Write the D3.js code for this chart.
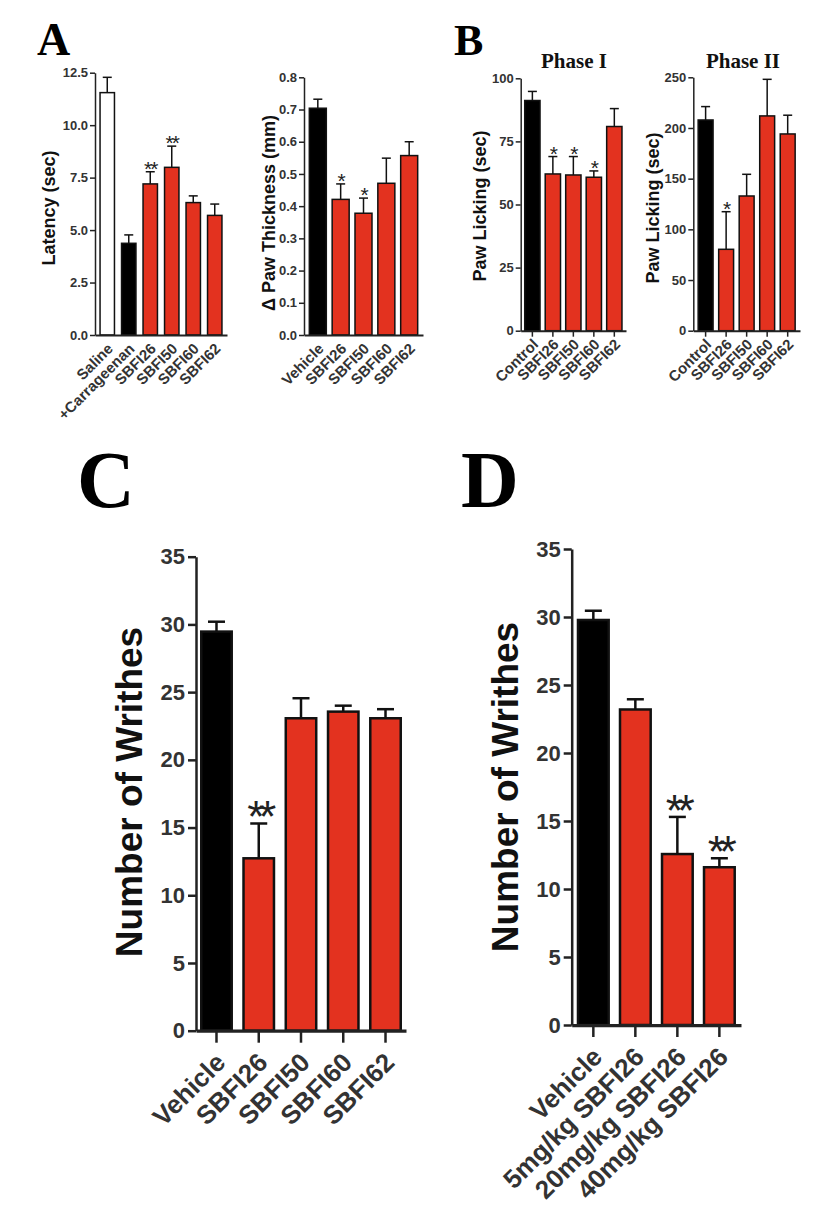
<!DOCTYPE html>
<html><head><meta charset="utf-8">
<script src="https://cdn.jsdelivr.net/npm/d3@7"></script>
<style>body{margin:0;background:#fff}</style>
</head><body><svg id="c" width="826" height="1224"></svg>
<script>
// ---------- DATA ----------
const latencyCats = ["Saline", "+Carrageenan", "SBFI26", "SBFI50", "SBFI60", "SBFI62"];
const latencyGroup = ["normal", "control", "drug", "drug", "drug", "drug"];
const latencyMean = [11.55, 4.37, 7.20, 7.99, 6.31, 5.70];
const latencySem  = [0.73, 0.40, 0.58, 1.01, 0.32, 0.54];
const latencySig  = ["", "", "**", "**", "", ""];
const latencyTicks = [0, 2.5, 5, 7.5, 10, 12.5];

const thickCats = ["Vehicle", "SBFI26", "SBFI50", "SBFI60", "SBFI62"];
const thickGroup = ["control", "drug", "drug", "drug", "drug"];
const thickMean = [0.704, 0.421, 0.378, 0.471, 0.557];
const thickSem  = [0.028, 0.048, 0.047, 0.078, 0.043];
const thickSig  = ["", "*", "*", "", ""];
const thickTicks = [0, 0.1, 0.2, 0.3, 0.4, 0.5, 0.6, 0.7, 0.8];

const phase1Cats = ["Control", "SBFI26", "SBFI50", "SBFI60", "SBFI62"];
const phase1Group = ["control", "drug", "drug", "drug", "drug"];
const phase1Mean = [91.2, 62.1, 61.7, 60.8, 80.9];
const phase1Sem  = [3.6, 6.9, 7.3, 2.5, 7.1];
const phase1Sig  = ["", "*", "*", "*", ""];
const phase1Ticks = [0, 25, 50, 75, 100];

const phase2Cats = ["Control", "SBFI26", "SBFI50", "SBFI60", "SBFI62"];
const phase2Group = ["control", "drug", "drug", "drug", "drug"];
const phase2Mean = [207.9, 80.3, 132.9, 211.9, 194.1];
const phase2Sem  = [13.2, 37.1, 21.4, 36.1, 18.5];
const phase2Sig  = ["", "*", "", "", ""];
const phase2Ticks = [0, 50, 100, 150, 200, 250];

const writhesCCats = ["Vehicle", "SBFI26", "SBFI50", "SBFI60", "SBFI62"];
const writhesCGroup = ["control", "drug", "drug", "drug", "drug"];
const writhesCMean = [29.47, 12.73, 23.07, 23.56, 23.07];
const writhesCSem  = [0.73, 2.57, 1.48, 0.44, 0.67];
const writhesCSig  = ["", "**", "", "", ""];

const writhesDCats = ["Vehicle", "5mg/kg SBFI26", "20mg/kg SBFI26", "40mg/kg SBFI26"];
const writhesDGroup = ["control", "drug", "drug", "drug"];
const writhesDMean = [29.78, 23.20, 12.57, 11.60];
const writhesDSem  = [0.68, 0.75, 2.73, 0.66];
const writhesDSig  = ["", "", "**", "**"];
const writhesTicks = [0, 5, 10, 15, 20, 25, 30, 35];

// ---------- DRAWING ----------
const SANS = "'Liberation Sans', Arial, Helvetica, sans-serif";
const SERIF = "'Liberation Serif', 'Times New Roman', serif";
const groupFill = {normal: "#ffffff", control: "#000000", drug: "#e3321f"};

const svg = d3.select("#c");
svg.append("rect").attr("width", 826).attr("height", 1224).attr("fill", "#fff");

function panel(o) {
  const x = d3.scaleBand().domain(o.cats).range([o.x0, o.x1]).paddingInner(o.pi).paddingOuter(o.po);
  const y = d3.scaleLinear().domain([0, o.max]).range([o.y0, o.y1]);
  const g = svg.append("g");
  const bw = x.bandwidth();
  const data = o.cats.map((c, i) => ({c, m: o.mean[i], s: o.sem[i], sig: o.sig[i], grp: o.group[i]}));

  // bars
  g.selectAll("rect.bar").data(data).enter().append("rect")
    .attr("x", d => x(d.c) + o.lw / 2).attr("width", bw - o.lw)
    .attr("y", d => y(d.m)).attr("height", d => o.y0 - y(d.m))
    .attr("fill", d => groupFill[d.grp]).attr("stroke", "#111").attr("stroke-width", o.lw);

  // error bars (upper)
  g.selectAll("line.err").data(data).enter().append("line")
    .attr("x1", d => x(d.c) + bw / 2).attr("x2", d => x(d.c) + bw / 2)
    .attr("y1", d => y(d.m)).attr("y2", d => y(d.m + d.s))
    .attr("stroke", "#111").attr("stroke-width", o.lw);
  g.selectAll("line.cap").data(data).enter().append("line")
    .attr("x1", d => x(d.c) + bw / 2 - o.cap / 2).attr("x2", d => x(d.c) + bw / 2 + o.cap / 2)
    .attr("y1", d => y(d.m + d.s)).attr("y2", d => y(d.m + d.s))
    .attr("stroke", "#111").attr("stroke-width", o.lw);

  // significance stars
  g.selectAll("text.sig").data(data.filter(d => d.sig)).enter().append("text")
    .attr("x", d => x(d.c) + bw / 2).attr("y", d => y(d.m + d.s) + o.sdy)
    .attr("text-anchor", "middle").attr("font-family", SANS).attr("font-size", o.sfs)
    .attr("letter-spacing", o.sls).attr("fill", "#222").text(d => d.sig);

  // y axis
  const ya = d3.axisLeft(y).tickValues(o.ticks).tickFormat(d3.format(o.fmt))
    .tickSize(o.tick).tickSizeOuter(0).tickPadding(o.tpad);
  const yg = g.append("g").attr("transform", `translate(${o.x0},0)`).call(ya);
  yg.select(".domain").attr("stroke", "#222").attr("stroke-width", o.lw);
  yg.selectAll(".tick line").attr("stroke", "#222").attr("stroke-width", o.lw);
  yg.selectAll(".tick text").attr("font-family", SANS).attr("font-weight", "bold")
    .attr("font-size", o.tfs).attr("fill", "#333");

  // x axis
  const xa = d3.axisBottom(x).tickSize(o.xtick).tickSizeOuter(0).tickFormat("");
  const xg = g.append("g").attr("transform", `translate(0,${o.y0})`).call(xa);
  xg.select(".domain").attr("stroke", "#222").attr("stroke-width", o.lw * 1.3);
  xg.selectAll(".tick line").attr("stroke", "#222").attr("stroke-width", o.lw);

  // x labels
  g.selectAll("text.xl").data(data).enter().append("text")
    .attr("transform", d => `translate(${x(d.c) + bw / 2 + o.xldx},${o.y0 + o.xlpad}) rotate(-45)`)
    .attr("text-anchor", "end").attr("dy", "0.35em")
    .attr("font-family", SANS).attr("font-weight", "bold").attr("font-size", o.xfs)
    .attr("fill", "#333").text(d => d.c);

  // y title
  g.append("text")
    .attr("transform", `translate(${o.ytx},${o.yty}) rotate(-90)`)
    .attr("text-anchor", "middle").attr("font-family", SANS).attr("font-weight", "bold")
    .attr("font-size", o.yfs).attr("fill", "#111").text(o.ytitle);
}

const small = {lw: 1.5, tick: 5, tpad: 2, tfs: 13, xfs: 15, yfs: 18, cap: 9, sfs: 21, sls: -2, sdy: 4, xlpad: 11, xldx: 3};
const big = {lw: 2.5, tick: 8, tpad: 3, tfs: 22, xfs: 26, yfs: 37, cap: 17, sfs: 45, sls: -6, sdy: 9, xlpad: 27, xldx: 4};

panel(Object.assign({}, small, {
  cats: latencyCats, group: latencyGroup, mean: latencyMean, sem: latencySem, sig: latencySig,
  ticks: latencyTicks, max: 12.5, fmt: ".1f",
  x0: 95, x1: 227, pi: 0.26, po: 0.2, y0: 335, y1: 72.7, xtick: 0,
  ytitle: "Latency (sec)", ytx: 55, yty: 208
}));
panel(Object.assign({}, small, {
  cats: thickCats, group: thickGroup, mean: thickMean, sem: thickSem, sig: thickSig,
  ticks: thickTicks, max: 0.8, fmt: ".1f",
  x0: 304, x1: 423, pi: 0.19, po: 0.2, y0: 335, y1: 77.3, xtick: 0,
  ytitle: "\u0394 Paw Thickness (mm)", ytx: 275, yty: 213
}));
panel(Object.assign({}, small, {
  cats: phase1Cats, group: phase1Group, mean: phase1Mean, sem: phase1Sem, sig: phase1Sig,
  ticks: phase1Ticks, max: 100, fmt: "d",
  x0: 520.7, x1: 626, pi: 0.18, po: 0.16, y0: 330.7, y1: 78.3, xtick: 6,
  ytitle: "Paw Licking (sec)", ytx: 486, yty: 206
}));
panel(Object.assign({}, small, {
  cats: phase2Cats, group: phase2Group, mean: phase2Mean, sem: phase2Sem, sig: phase2Sig,
  ticks: phase2Ticks, max: 250, fmt: "d",
  x0: 693.3, x1: 800, pi: 0.2, po: 0.2, y0: 330.7, y1: 77.3, xtick: 6,
  ytitle: "Paw Licking (sec)", ytx: 659, yty: 208
}));
panel(Object.assign({}, big, {
  cats: writhesCCats, group: writhesCGroup, mean: writhesCMean, sem: writhesCSem, sig: writhesCSig,
  ticks: writhesTicks, max: 35, fmt: "d",
  x0: 196, x1: 406, pi: 0.22, po: 0.095, y0: 1030.7, y1: 556.7, xtick: 12,
  ytitle: "Number of Writhes", ytx: 142, yty: 792
}));
panel(Object.assign({}, big, {
  cats: writhesDCats, group: writhesDGroup, mean: writhesDMean, sem: writhesDSem, sig: writhesDSig,
  ticks: writhesTicks, max: 35, fmt: "d",
  x0: 571.7, x1: 741, pi: 0.21, po: 0.12, y0: 1025, y1: 549, xtick: 12,
  ytitle: "Number of Writhes", ytx: 518, yty: 787
}));

// panel letters and titles
const letters = [{t: "A", x: 37, y: 55, s: 46}, {t: "B", x: 454, y: 55, s: 44},
                 {t: "C", x: 77, y: 507, s: 80}, {t: "D", x: 461, y: 507, s: 80}];
svg.selectAll("text.letter").data(letters).enter().append("text")
  .attr("x", d => d.x).attr("y", d => d.y).attr("font-family", SERIF).attr("font-weight", "bold")
  .attr("font-size", d => d.s).attr("fill", "#000").text(d => d.t);
const titles = [{t: "Phase I", x: 574}, {t: "Phase II", x: 743}];
svg.selectAll("text.ptitle").data(titles).enter().append("text")
  .attr("x", d => d.x).attr("y", 68).attr("text-anchor", "middle").attr("font-family", SERIF)
  .attr("font-weight", "bold").attr("font-size", 21).attr("fill", "#111").text(d => d.t);
</script></body></html>
